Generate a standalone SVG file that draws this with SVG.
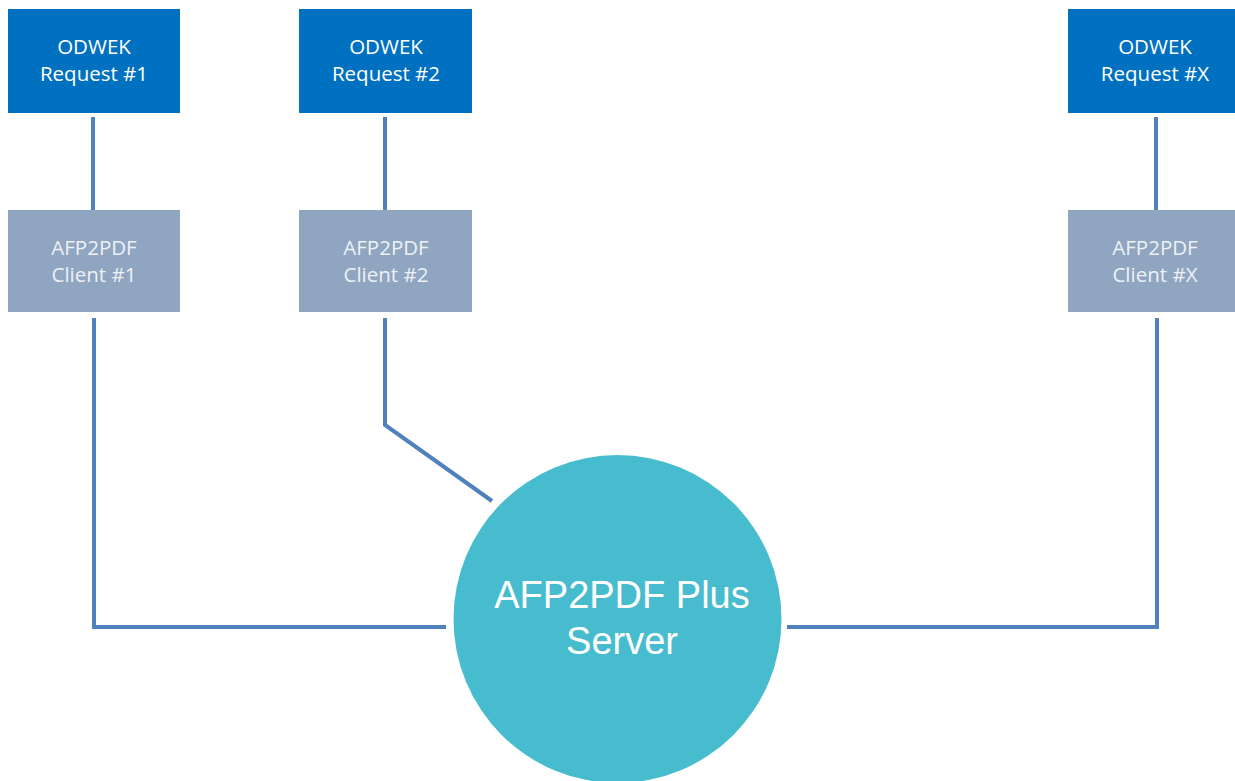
<svg xmlns="http://www.w3.org/2000/svg" width="1235" height="781" viewBox="0 0 1235 781">
<style>
.req{fill:#0070C0}
.cli{fill:#8FA5C0}
.t{font-family:"Open Sans","Liberation Sans",sans-serif;font-size:20.5px;text-anchor:middle}
.tr{fill:#FFFFFF}
.tc{fill:#EDF1F6}
.ln{fill:none;stroke:#4F81BD;stroke-width:4}
.big{font-family:"Liberation Sans",Arial,sans-serif;font-size:38px;fill:#FFFFFF;text-anchor:middle}
</style>
<rect width="1235" height="781" fill="#FFFFFF"/>
<g id="connectors">
<path class="ln" d="M93 117V210"/>
<path class="ln" d="M385 117V210"/>
<path class="ln" d="M1156 117V210"/>
<path class="ln" d="M94 318V627H446"/>
<path class="ln" d="M385 318V425L492 501"/>
<path class="ln" d="M1157 318V627H787"/>
</g>
<g id="req1"><rect class="req" x="8" y="9" width="172" height="104"/><text class="t tr"><tspan x="94" y="54">ODWEK</tspan><tspan x="94" y="81">Request #1</tspan></text></g>
<g id="req2"><rect class="req" x="299" y="9" width="173" height="104"/><text class="t tr"><tspan x="386" y="54">ODWEK</tspan><tspan x="386" y="81">Request #2</tspan></text></g>
<g id="reqX"><rect class="req" x="1068" y="9" width="167" height="104"/><text class="t tr"><tspan x="1155" y="54">ODWEK</tspan><tspan x="1155" y="81">Request #X</tspan></text></g>
<g id="cli1"><rect class="cli" x="8" y="210" width="172" height="102"/><text class="t tc"><tspan x="94" y="255">AFP2PDF</tspan><tspan x="94" y="282">Client #1</tspan></text></g>
<g id="cli2"><rect class="cli" x="299" y="210" width="173" height="102"/><text class="t tc"><tspan x="386" y="255">AFP2PDF</tspan><tspan x="386" y="282">Client #2</tspan></text></g>
<g id="cliX"><rect class="cli" x="1068" y="210" width="167" height="102"/><text class="t tc"><tspan x="1155" y="255">AFP2PDF</tspan><tspan x="1155" y="282">Client #X</tspan></text></g>
<g id="server"><circle cx="617.5" cy="619" r="164" fill="#47BCCE"/><text class="big"><tspan x="622" y="608">AFP2PDF Plus</tspan><tspan x="622" y="654">Server</tspan></text></g>
</svg>
